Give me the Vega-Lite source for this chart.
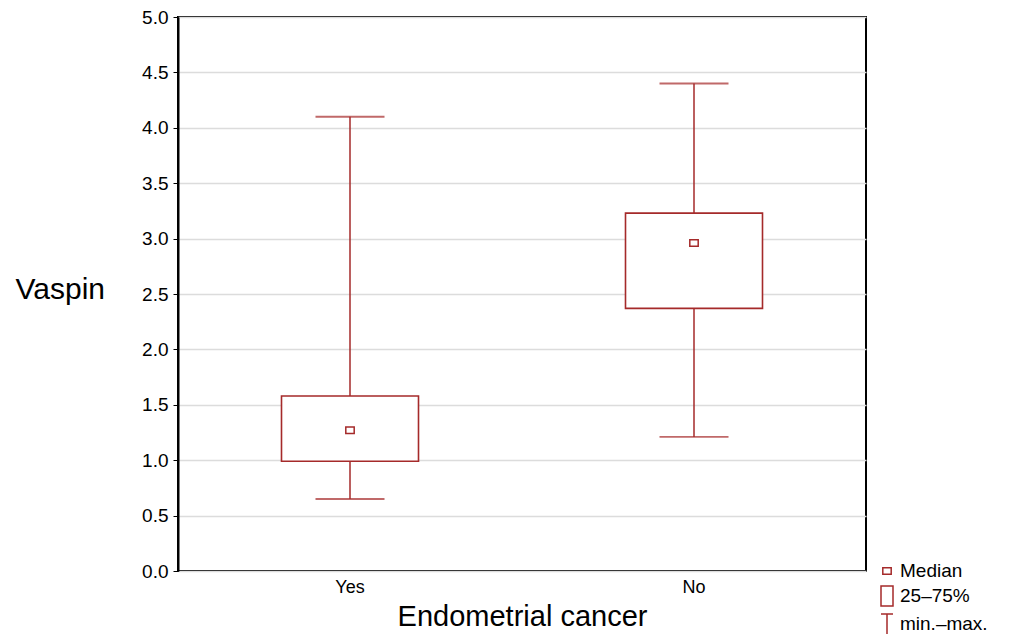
{
  "$schema": "https://vega.github.io/schema/vega-lite/v6.json",
  "autosize": "none",
  "width": 688,
  "height": 554,
  "padding": {"left": 178, "top": 17, "right": 144, "bottom": 63},
  "background": "white",
  "config": {
    "font": "Liberation Sans",
    "view": {"stroke": "black", "strokeWidth": 2},
    "axis": {"labelColor": "black", "titleColor": "black", "labelFont": "Liberation Sans", "titleFont": "Liberation Sans", "titleFontWeight": "normal"}
  },
  "data": {
    "values": [
      {"group": "Yes", "min": 0.65, "q1": 0.99, "median": 1.27, "q3": 1.58, "max": 4.1},
      {"group": "No", "min": 1.21, "q1": 2.37, "median": 2.96, "q3": 3.23, "max": 4.4}
    ]
  },
  "encoding": {
    "x": {
      "field": "group", "type": "nominal", "sort": ["Yes", "No"],
      "scale": {"type": "band", "paddingInner": 0, "paddingOuter": 0},
      "axis": {"title": "Endometrial cancer", "labelAngle": 0, "labelFontSize": 18, "labelPadding": 7, "titleFontSize": 29, "titlePadding": 6, "domain": false, "ticks": false, "grid": false}
    }
  },
  "layer": [
    {
      "mark": {"type": "rule", "color": "#A52A2A", "strokeWidth": 1.5},
      "encoding": {
        "y": {"field": "min", "type": "quantitative", "scale": {"domain": [0, 5], "nice": false}, "axis": {"title": "Vaspin", "values": [0, 0.5, 1, 1.5, 2, 2.5, 3, 3.5, 4, 4.5, 5], "format": ".1f", "labelFontSize": 19, "labelPadding": 5, "tickSize": 5, "tickColor": "black", "domain": true, "domainColor": "black", "domainWidth": 2, "grid": true, "gridColor": "#dcdcdc", "gridWidth": 1.5, "titleAngle": 0, "titleFontSize": 30, "titleAlign": "left", "titleBaseline": "middle", "titleX": -163, "titleY": 272}},
        "y2": {"field": "max"}
      }
    },
    {
      "mark": {"type": "tick", "color": "#A52A2A", "size": 69, "thickness": 1.8, "orient": "horizontal"},
      "encoding": {"y": {"field": "min", "type": "quantitative"}}
    },
    {
      "mark": {"type": "tick", "color": "#A52A2A", "size": 69, "thickness": 2, "orient": "horizontal"},
      "encoding": {"y": {"field": "max", "type": "quantitative"}}
    },
    {
      "mark": {"type": "bar", "fill": "white", "stroke": "#A52A2A", "strokeWidth": 1.6, "size": 137},
      "encoding": {
        "y": {"field": "q1", "type": "quantitative"},
        "y2": {"field": "q3"}
      }
    },
    {
      "mark": {"type": "point", "filled": false, "stroke": "#A52A2A", "strokeWidth": 1.5, "size": 400, "opacity": 1},
      "encoding": {
        "y": {"field": "median", "type": "quantitative"},
        "shape": {
          "datum": "Median",
          "scale": {
            "domain": ["Median", "25–75%", "min.–max."],
            "range": ["M-0.42,-0.32H0.42V0.32H-0.42Z", "M-0.6,-1H0.6V1H-0.6Z", "M-0.6,-1H0.6M0,-1V1"]
          },
          "legend": {
            "title": null,
            "orient": "none",
            "legendX": 698,
            "legendY": 543,
            "padding": 0,
            "symbolSize": 400,
            "symbolStrokeColor": "#A52A2A",
            "symbolFillColor": "transparent",
            "symbolStrokeWidth": 1.5,
            "labelFont": "Liberation Sans",
            "labelFontSize": 19,
            "labelColor": "black",
            "labelOffset": 2,
            "rowPadding": 2
          }
        }
      }
    }
  ]
}
